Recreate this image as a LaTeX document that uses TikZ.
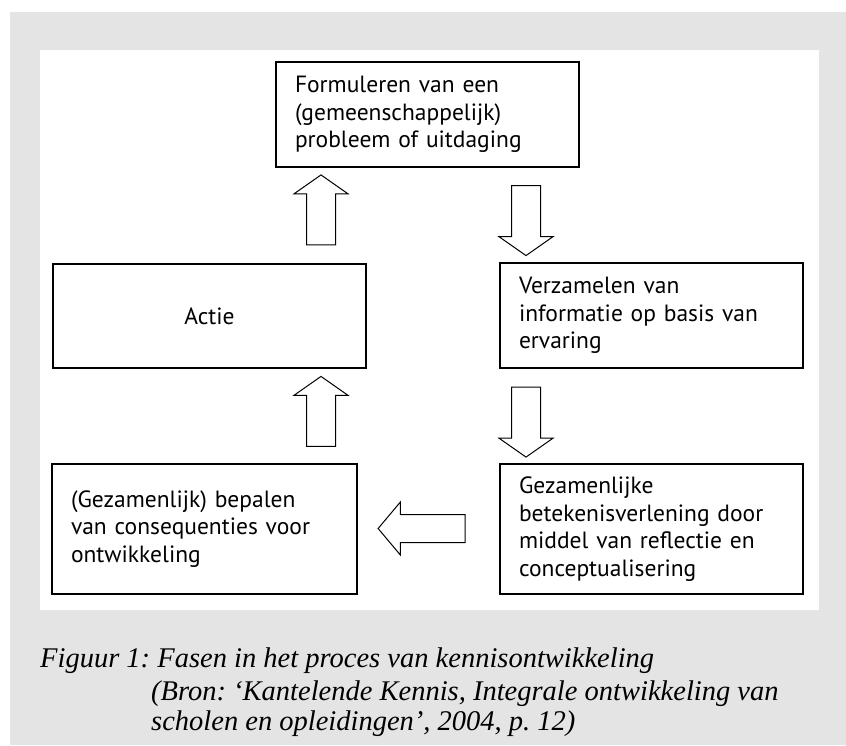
\documentclass[tikz,border=0pt]{standalone}
\usepackage{fontspec}
\setmainfont{PT Sans}
\newfontfamily\capfont{Liberation Serif}
\usetikzlibrary{shapes.arrows}
\usetikzlibrary{positioning}
\frenchspacing

\definecolor{panelgrey}{RGB}{228,228,228}

\begin{document}
\begin{tikzpicture}[x=1pt, y=-1pt,
    fase/.style={draw, line width=1.3pt, align=left, inner xsep=19pt, inner ysep=0pt,
                 font=\fontsize{23.5}{27.5}\selectfont},
    pijl/.style={draw, line width=1pt, fill=white, single arrow, inner xsep=0pt, inner ysep=14pt,
                 minimum width=53pt, minimum height=70pt, single arrow head extend=12.5pt,
                 single arrow tip angle=110},
    onder/.style={font=\capfont\itshape\fontsize{28.5}{33}\selectfont, inner sep=0pt, align=left}]

	\useasboundingbox (0,0) rectangle (846,745);

        \fill[white] (0,0) rectangle (846,745);
        \fill[panelgrey] (10,12) rectangle (846,745);
        \fill[white] (40,50) rectangle (819,610);

      	\node[fase, minimum width=303pt, minimum height=105pt, text width=265pt] (probleem) at (427.5,114.5)
      	  {Formuleren van een\\(gemeenschappelijk)\\probleem of uitdaging};

      	\node[fase, minimum width=313pt, minimum height=104pt, text width=275pt, align=center] (actie) at (209.5,316)
      	  {Actie};

      	\node[fase, minimum width=303pt, minimum height=105pt, text width=265pt] (verzamelen) at (651.5,315.5)
      	  {Verzamelen van\\informatie op basis van\\ervaring};

      	\node[fase, minimum width=305pt, minimum height=130pt, text width=267pt] (bepalen) at (204.5,529)
      	  {(Gezamenlijk) bepalen\\van consequenties voor\\ontwikkeling};

      	\node[fase, minimum width=303pt, minimum height=130pt, text width=265pt] (betekenis) at (651.5,529)
      	  {Gezamenlijke\\betekenisverlening door\\middel van reflectie en\\conceptualisering};

	% de blokpijlen tussen de fasen
	\node[pijl, rotate=90] (pijlA) at (321,215) {};
	\node[pijl, rotate=-90] (pijlB) at (526,215.5) {};
	\node[pijl, rotate=-90] (pijlC) at (526,417) {};
	\node[pijl, rotate=90] (pijlD) at (321,416.5) {};
	\node[pijl, rotate=180, inner ysep=13.5pt, minimum width=52pt, minimum height=87pt, single arrow tip angle=100] (pijlE) at (427.5,528.5) {};

	\node[onder, anchor=base west] (figuur) at (40,667)
	  {Figuur 1: Fasen in het proces van kennisontwikkeling};

	\node[onder, anchor=base west] (bron) at (151,700)
	  {(Bron: ‘Kantelende Kennis, Integrale ontwikkeling van};
	\node[onder, anchor=base west] (bron2) at (151,730)
	  {scholen en opleidingen’, 2004, p. 12)};

\end{tikzpicture}
\end{document}
